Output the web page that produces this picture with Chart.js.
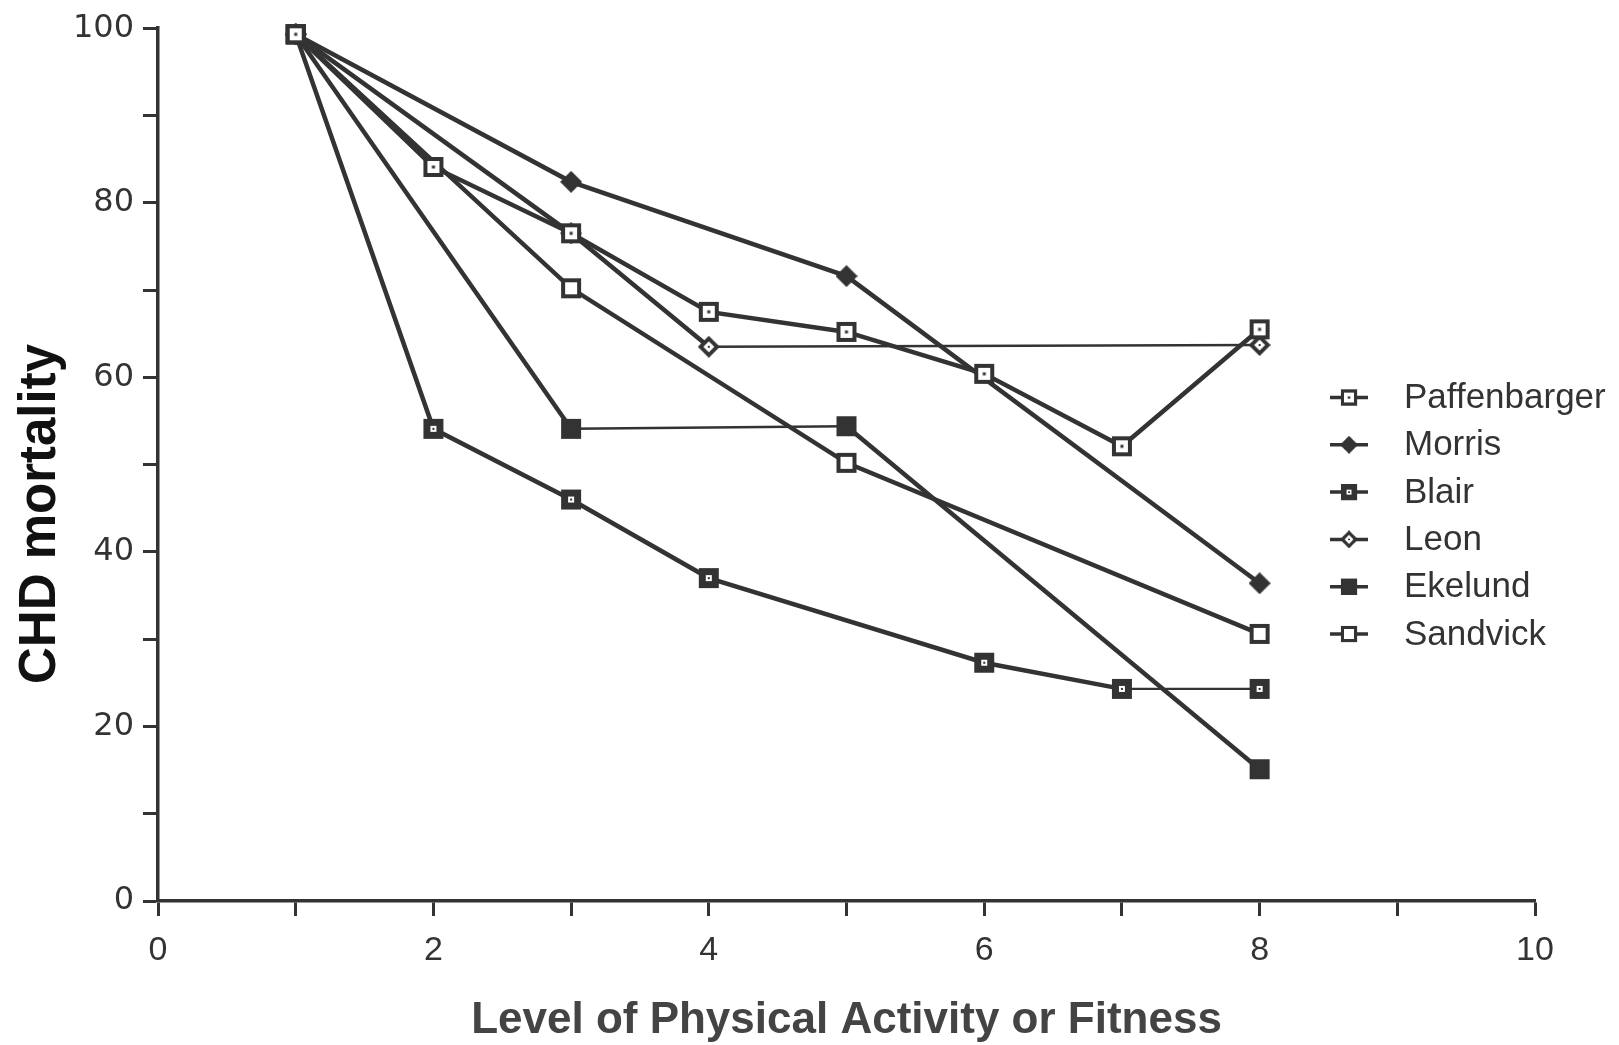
<!DOCTYPE html>
<html>
<head>
<meta charset="utf-8">
<script src="https://cdn.jsdelivr.net/npm/chart.js@4.4.1/dist/chart.umd.min.js"></script>
<style>
    html, body { margin: 0; padding: 0; background: #fff; }
</style>
</head>
<body>
<canvas id="chart" width="1619" height="1045"></canvas>
<script>
// values: x = level of activity, y = CHD mortality
const seriesNames = ['Paffenbarger', 'Morris', 'Blair', 'Leon', 'Ekelund', 'Sandvick'];
const paffenbargerX = [1, 2, 3, 4, 5, 6, 7, 8];
const paffenbargerY = [99.3, 84.1, 76.5, 67.5, 65.2, 60.4, 52.1, 65.5];
const morrisX = [1, 3, 5, 8];
const morrisY = [99.3, 82.4, 71.6, 36.4];
const blairX = [1, 2, 3, 4, 6, 7, 8];
const blairY = [99.3, 54.1, 46.0, 37.0, 27.3, 24.3, 24.3];
const leonX = [1, 3, 4, 8];
const leonY = [99.3, 76.5, 63.5, 63.7];
const ekelundX = [1, 3, 5, 8];
const ekelundY = [99.3, 54.1, 54.4, 15.1];
const sandvickX = [1, 3, 5, 8];
const sandvickY = [99.3, 70.2, 50.2, 30.6];

const INK = '#333';

// small canvases used as point styles
const marker = kind => {
    const c = document.createElement('canvas');
    c.width = 22;
    c.height = 22;
    const g = c.getContext('2d');
    g.fillStyle = INK;
    g.strokeStyle = INK;
    if (kind === 'sqDot' || kind === 'sqOpen') {
        g.fillStyle = '#fff';
        g.fillRect(2, 2, 18, 18);
        g.lineWidth = 4;
        g.strokeRect(3, 3, 16, 16);
        if (kind === 'sqDot') {
            g.fillStyle = INK;
            g.fillRect(9.5, 9.5, 3, 3);
        }
    } else if (kind === 'sqHeavy') {
        g.fillRect(1, 1, 20, 20);
        g.fillStyle = '#fff';
        g.fillRect(8, 8, 6, 6);
        g.fillStyle = INK;
        g.fillRect(10, 10, 2, 2);
    } else if (kind === 'sqFill') {
        g.fillRect(1, 1, 20, 20);
    } else {
        g.beginPath();
        g.moveTo(11, 0);
        g.lineTo(22, 11);
        g.lineTo(11, 22);
        g.lineTo(0, 11);
        g.closePath();
        g.fill();
        if (kind === 'diamondDot') {
            g.fillStyle = '#fff';
            g.beginPath();
            g.moveTo(11, 5.5);
            g.lineTo(16.5, 11);
            g.lineTo(11, 16.5);
            g.lineTo(5.5, 11);
            g.closePath();
            g.fill();
            g.fillStyle = INK;
            g.fillRect(10, 10, 2, 2);
        }
    }
    return c;
};

const markers = ['sqDot', 'diamond', 'sqHeavy', 'diamondDot', 'sqFill', 'sqOpen'].map(marker);
const xs = [paffenbargerX, morrisX, blairX, leonX, ekelundX, sandvickX];
const ys = [paffenbargerY, morrisY, blairY, leonY, ekelundY, sandvickY];

const datasets = seriesNames.map((name, i) => ({
    label: name,
    data: xs[i].map((x, j) => ({ x, y: ys[i][j] })),
    borderColor: INK,
    borderWidth: 4.5,
    pointStyle: markers[i],
    pointRadius: 11,
    clip: false,
    segment: {
        // the flat segments are printed thinner in the original
        borderWidth: ctx => (Math.abs(ctx.p0.parsed.y - ctx.p1.parsed.y) < 1 ? 2.4 : 4.5),
    },
}));

const legendRows = {
    id: 'legendRows',
    afterDraw(chart) {
        const ctx = chart.ctx;
        ctx.save();
        seriesNames.forEach((name, i) => {
            const y = 397.5 + i * 47.3;
            ctx.strokeStyle = INK;
            ctx.lineWidth = 3.5;
            ctx.beginPath();
            ctx.moveTo(1330, y);
            ctx.lineTo(1368, y);
            ctx.stroke();
            ctx.drawImage(markers[i], 1340, y - 9, 18, 18);
            ctx.fillStyle = '#333';
            ctx.font = '35px "Liberation Sans", Arial, sans-serif';
            ctx.textBaseline = 'middle';
            ctx.textAlign = 'left';
            ctx.fillText(name, 1404, y + 1);
        });
        // y axis title
        ctx.translate(41, 514);
        ctx.rotate(-Math.PI / 2);
        ctx.font = 'bold 51px "Liberation Sans", Arial, sans-serif';
        ctx.textAlign = 'center';
        ctx.textBaseline = 'middle';
        ctx.fillStyle = '#111';
        ctx.fillText('CHD mortality', 0, 0);
        ctx.restore();
    },
};

new Chart(document.getElementById('chart'), {
    type: 'line',
    data: { datasets },
    plugins: [legendRows],
    options: {
        responsive: false,
        animation: false,
        devicePixelRatio: 1,
        events: [],
        layout: { padding: { top: 28, right: 84, left: 0, bottom: 0 } },
        plugins: { legend: { display: false }, tooltip: { enabled: false } },
        scales: {
            x: {
                type: 'linear',
                min: 0,
                max: 10,
                afterFit: s => { s.height = 144; },
                ticks: {
                    stepSize: 1,
                    autoSkip: false,
                    maxRotation: 0,
                    padding: 14,
                    color: '#333',
                    font: { family: '"Liberation Sans", Arial, sans-serif', size: 34 },
                    callback: v => (v % 2 === 0 ? v : ''),
                },
                grid: { drawOnChartArea: false, tickLength: 15, tickColor: INK, tickWidth: 3 },
                border: { display: true, color: INK, width: 3.5 },
                title: {
                    display: true,
                    text: 'Level of Physical Activity or Fitness',
                    color: '#444',
                    font: { family: '"Liberation Sans", Arial, sans-serif', size: 44, weight: 'bold' },
                    padding: { top: 0, bottom: -2 },
                },
            },
            y: {
                min: 0,
                max: 100,
                afterFit: s => { s.width = 158; },
                ticks: {
                    stepSize: 10,
                    autoSkip: false,
                    padding: 9,
                    color: '#333',
                    font: { family: '"DejaVu Sans", sans-serif', size: 32 },
                    callback: v => (v % 20 === 0 ? v : ''),
                },
                grid: { drawOnChartArea: false, tickLength: 15, tickColor: INK, tickWidth: 3 },
                border: { display: true, color: INK, width: 3.5 },
            },
        },
    },
});
</script>
</body>
</html>
